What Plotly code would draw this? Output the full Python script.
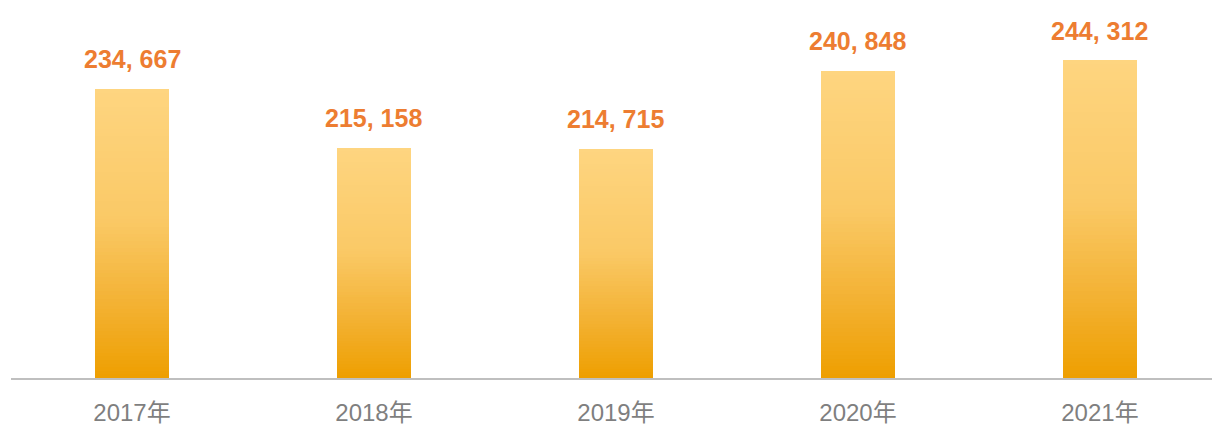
import plotly.graph_objects as go

# ---- data ----
categories = ["2017年", "2018年", "2019年", "2020年", "2021年"]
values = [234667, 215158, 214715, 240848, 244312]
value_labels = ["234, 667", "215, 158", "214, 715", "240, 848", "244, 312"]

# ---- style ----
axis_min = 138400
axis_max = 264500
n_seg = 80
grad_stops = [(0.0, (254, 213, 128)), (0.45, (250, 201, 102)),
              (0.75, (243, 177, 50)), (1.0, (238, 159, 0))]


def grad_color(t):
    for (t0, c0), (t1, c1) in zip(grad_stops[:-1], grad_stops[1:]):
        if t0 <= t <= t1:
            f = (t - t0) / (t1 - t0) if t1 > t0 else 0
            c = [round(a + (b - a) * f) for a, b in zip(c0, c1)]
            return "rgb(%d,%d,%d)" % tuple(c)
    return "rgb(%d,%d,%d)" % grad_stops[-1][1]


fig = go.Figure()
for i in range(n_seg):
    # segment i from bottom; t = 0 at top, 1 at bottom
    t = 1 - (i + 0.5) / n_seg
    seg_h = [(v - axis_min) / n_seg for v in values]
    bases = [axis_min + h * i for h in seg_h]
    fig.add_trace(go.Bar(
        x=categories, y=[h * 1.02 for h in seg_h], base=bases,
        width=0.306, marker=dict(color=grad_color(t), line=dict(width=0)),
        hoverinfo="skip", showlegend=False,
    ))

for c, v, lab in zip(categories, values, value_labels):
    fig.add_annotation(
        x=c, y=v, text=lab, showarrow=False, yanchor="middle", yshift=30,
        font=dict(family="Liberation Sans, Arial, sans-serif",
                  size=25, color="#ED7D31", weight="bold"),
    )

fig.update_layout(
    width=1212, height=426,
    margin=dict(l=11, r=0, t=0, b=48),
    paper_bgcolor="white", plot_bgcolor="white",
    barmode="overlay", bargap=0,
    xaxis=dict(
        range=[-0.5, 4.463], showline=True, linecolor="#BFBFBF", linewidth=1.5,
        ticks="outside", ticklen=12, tickcolor="rgba(0,0,0,0)",
        tickfont=dict(family="Liberation Sans, Noto Sans CJK SC, sans-serif",
                      size=24, color="#7F7F7F"),
        showgrid=False, zeroline=False, fixedrange=True, automargin=False,
    ),
    yaxis=dict(range=[axis_min, axis_max], visible=False, showgrid=False,
               zeroline=False, fixedrange=True, automargin=False),
)

fig.write_html("out.html", config={"displayModeBar": False},
               post_script="document.body.style.margin='0';document.body.style.overflow='hidden';")
